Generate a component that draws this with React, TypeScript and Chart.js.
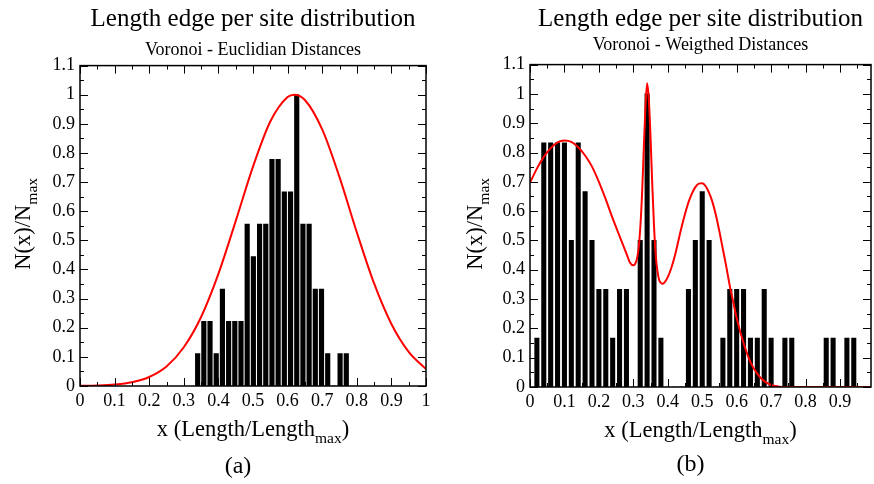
import React, { useEffect, useRef } from 'react';
import { Chart, registerables } from 'chart.js';

Chart.register(...registerables);

const FONT = '"Liberation Serif", "Times New Roman", Times, serif';

// ---------------- Panel (a): Voronoi - Euclidian Distances ----------------
const binsA = [
  0.3400, 0.3579, 0.3758, 0.3937, 0.4116, 0.4295, 0.4474, 0.4653, 0.4832, 0.5011,
  0.5190, 0.5369, 0.5548, 0.5727, 0.5906, 0.6085, 0.6264, 0.6443, 0.6622, 0.6801,
  0.6980, 0.7159, 0.7338, 0.7517, 0.7696,
];
const countsA = [
  0.111, 0.222, 0.222, 0.111, 0.333, 0.222, 0.222, 0.222, 0.556, 0.444,
  0.556, 0.556, 0.778, 0.778, 0.667, 0.667, 1.0, 0.556, 0.556, 0.333,
  0.333, 0.111, 0, 0.111, 0.111,
];
const fitXA = [
  0, 0.05, 0.1, 0.15, 0.2, 0.25, 0.3, 0.35, 0.4, 0.45, 0.5, 0.55, 0.6, 0.62,
  0.65, 0.7, 0.75, 0.8, 0.85, 0.9, 0.95, 1.0,
];
const fitYA = [
  0.0005, 0.0016, 0.0048, 0.0128, 0.031, 0.067, 0.133, 0.237, 0.385, 0.566, 0.753, 0.908, 0.992, 1.0,
  0.982, 0.881, 0.717, 0.528, 0.352, 0.213, 0.117, 0.058,
];

// ---------------- Panel (b): Voronoi - Weigthed Distances ----------------
const binsB = [
  0.02, 0.04, 0.06, 0.08, 0.10, 0.12, 0.14, 0.16, 0.18, 0.20,
  0.22, 0.24, 0.26, 0.28, 0.30, 0.32, 0.34, 0.36, 0.38, 0.40,
  0.42, 0.44, 0.46, 0.48, 0.50, 0.52, 0.54, 0.56, 0.58, 0.60,
  0.62, 0.64, 0.66, 0.68, 0.70, 0.72, 0.74, 0.76, 0.78, 0.80,
  0.82, 0.84, 0.86, 0.88, 0.90, 0.92, 0.94,
];
const countsB = [
  0.167, 0.833, 0.833, 0.833, 0.833, 0.5, 0.833, 0.667, 0.5, 0.333,
  0.333, 0.167, 0.333, 0.333, 0, 0.5, 1.0, 0.5, 0.167, 0,
  0, 0, 0.333, 0.5, 0.667, 0.5, 0, 0.167, 0.333, 0.333,
  0.333, 0.167, 0.167, 0.333, 0.167, 0, 0.167, 0.167, 0, 0,
  0, 0, 0.167, 0.167, 0, 0.167, 0.167,
];
const fitXB = [
  0, 0.02, 0.04, 0.06, 0.08, 0.10, 0.12, 0.14, 0.16, 0.18, 0.20, 0.22, 0.24, 0.26,
  0.27, 0.28, 0.29, 0.30, 0.305, 0.31, 0.315, 0.32, 0.325, 0.33, 0.335, 0.34, 0.345,
  0.35, 0.355, 0.36, 0.365, 0.37, 0.375, 0.38, 0.385, 0.39, 0.40, 0.41, 0.42, 0.43,
  0.44, 0.45, 0.46, 0.47, 0.48, 0.49, 0.50, 0.51, 0.52, 0.53, 0.54, 0.55, 0.56, 0.57,
  0.58, 0.59, 0.60, 0.62, 0.64, 0.66, 0.68, 0.70, 0.72, 0.74, 0.80, 0.90, 0.99,
];
const fitYB = [
  0.697, 0.745, 0.785, 0.815, 0.835, 0.841, 0.836, 0.818, 0.790, 0.752, 0.700, 0.640, 0.575, 0.515,
  0.485, 0.455, 0.425, 0.415, 0.420, 0.435, 0.470, 0.540, 0.650, 0.800, 0.950, 1.036, 0.980,
  0.850, 0.690, 0.550, 0.450, 0.395, 0.365, 0.355, 0.352, 0.356, 0.375, 0.405, 0.445, 0.495,
  0.545, 0.590, 0.630, 0.660, 0.682, 0.694, 0.695, 0.685, 0.662, 0.630, 0.585, 0.530, 0.470, 0.410,
  0.345, 0.290, 0.235, 0.150, 0.085, 0.045, 0.020, 0.007, 0.002, 0, 0, 0, 0,
];

const titleText = 'Length edge per site distribution';
const subtitleA = 'Voronoi - Euclidian Distances';
const subtitleB = 'Voronoi - Weigthed Distances';
const yTitleMain = 'N(x)/N';
const xTitleMain = 'x (Length/Length';
const titleSub = 'max';
const tagA = '(a)';
const tagB = '(b)';

type PanelCfg = {
  bins: number[];
  counts: number[];
  fitX: number[];
  fitY: number[];
  subtitle: string;
  tag: string;
  xMax: number;
  yAxisWidth: number;
  xAxisHeight: number;
  padRight: number;
  titlePadBottom: number;
  subPadBottom: number;
  barThickness: number;
  yTitleX: number;
  xTitleBase: number;
  tagBase: number;
  tagOffset: number;
};

function drawWithSub(
  ctx: CanvasRenderingContext2D,
  main: string,
  sub: string,
  tail: string,
  cx: number,
  base: number,
  size: number,
  subSize: number,
  drop: number
) {
  const mf = `${size}px ${FONT}`;
  const sf = `${subSize}px ${FONT}`;
  ctx.font = mf;
  const w1 = ctx.measureText(main).width;
  const w3 = ctx.measureText(tail).width;
  ctx.font = sf;
  const w2 = ctx.measureText(sub).width;
  let x = cx - (w1 + w2 + w3) / 2;
  ctx.textAlign = 'left';
  ctx.textBaseline = 'alphabetic';
  ctx.font = mf;
  ctx.fillText(main, x, base);
  x += w1;
  ctx.font = sf;
  ctx.fillText(sub, x, base + drop);
  x += w2;
  ctx.font = mf;
  if (tail) ctx.fillText(tail, x, base);
}

function makeDecor(cfg: PanelCfg) {
  return {
    id: 'decor',
    afterDatasetsDraw(chart: any) {
      const { ctx, chartArea: a, scales } = chart;
      const x = scales.x;
      const y = scales.y;
      ctx.save();
      // tick marks (inside, on all four sides)
      ctx.strokeStyle = '#000';
      ctx.lineWidth = 1;
      for (let i = 0; ; i++) {
        const v = i * 0.05;
        if (v > x.max + 1e-9) break;
        const px = Math.round(x.getPixelForValue(v)) + 0.5;
        const len = i % 2 === 0 ? 8 : 4;
        ctx.beginPath();
        ctx.moveTo(px, a.bottom);
        ctx.lineTo(px, a.bottom - len);
        ctx.moveTo(px, a.top);
        ctx.lineTo(px, a.top + len);
        ctx.stroke();
      }
      for (let i = 0; ; i++) {
        const v = i * 0.05;
        if (v > y.max + 1e-9) break;
        const py = Math.round(y.getPixelForValue(v)) + 0.5;
        const len = i % 2 === 0 ? 8 : 4;
        ctx.beginPath();
        ctx.moveTo(a.left, py);
        ctx.lineTo(a.left + len, py);
        ctx.moveTo(a.right, py);
        ctx.lineTo(a.right - len, py);
        ctx.stroke();
      }
      // frame
      ctx.lineWidth = 1.5;
      ctx.strokeRect(a.left, a.top, a.right - a.left, a.bottom - a.top);

      // axis titles
      ctx.fillStyle = '#000';
      const cx = (a.left + a.right) / 2;
      drawWithSub(ctx, xTitleMain, titleSub, ')', cx, cfg.xTitleBase, 22.5, 15.5, 7);
      ctx.font = `24px ${FONT}`;
      ctx.textAlign = 'center';
      ctx.textBaseline = 'alphabetic';
      ctx.fillText(cfg.tag, cx + cfg.tagOffset, cfg.tagBase);

      const cy = (a.top + a.bottom) / 2 - 2;
      ctx.save();
      ctx.translate(cfg.yTitleX, cy);
      ctx.rotate(-Math.PI / 2);
      drawWithSub(ctx, yTitleMain, titleSub, '', 0, 0, 22.5, 15.5, 7);
      ctx.restore();
      ctx.restore();
    },
  };
}

const fmt = (v: any) => String(Math.round(Number(v) * 10) / 10);

function makeChart(canvas: HTMLCanvasElement, cfg: PanelCfg) {
  const barData = cfg.bins.map((b, i) => ({ x: b, y: cfg.counts[i] }));
  const lineData = cfg.fitX.map((fx, i) => ({ x: fx, y: cfg.fitY[i] }));
  return new Chart(canvas, {
    type: 'bar',
    data: {
      datasets: [
        {
          type: 'line',
          data: lineData,
          borderColor: '#ff0000',
          borderWidth: 2,
          pointRadius: 0,
          cubicInterpolationMode: 'monotone',
          order: 0,
        } as any,
        {
          type: 'bar',
          data: barData,
          backgroundColor: '#000',
          barThickness: cfg.barThickness,
          order: 1,
        } as any,
      ],
    },
    options: {
      responsive: false,
      animation: false,
      events: [],
      layout: { padding: { left: 0, right: cfg.padRight, top: 0, bottom: 0 } },
      plugins: {
        legend: { display: false },
        tooltip: { enabled: false },
        title: {
          display: true,
          text: titleText,
          fullSize: false,
          color: '#000',
          font: { family: FONT, size: 25, weight: 'normal' },
          padding: { top: 4, bottom: cfg.titlePadBottom },
        },
        subtitle: {
          display: true,
          text: cfg.subtitle,
          fullSize: false,
          color: '#000',
          font: { family: FONT, size: 18, weight: 'normal' },
          padding: { top: 0, bottom: cfg.subPadBottom },
        },
      },
      scales: {
        x: {
          type: 'linear',
          min: 0,
          max: cfg.xMax,
          offset: false,
          grid: { display: false, drawTicks: false },
          border: { display: false },
          ticks: {
            stepSize: 0.1,
            includeBounds: false,
            maxRotation: 0,
            autoSkip: false,
            padding: 4,
            color: '#000',
            font: { family: FONT, size: 18 },
            callback: fmt,
          },
          afterFit: (s: any) => {
            s.height = cfg.xAxisHeight;
          },
        },
        y: {
          type: 'linear',
          min: 0,
          max: 1.1,
          grid: { display: false, drawTicks: false },
          border: { display: false },
          ticks: {
            stepSize: 0.1,
            autoSkip: false,
            padding: 5,
            color: '#000',
            font: { family: FONT, size: 18 },
            callback: fmt,
          },
          afterFit: (s: any) => {
            s.width = cfg.yAxisWidth;
          },
        },
      },
    } as any,
    plugins: [makeDecor(cfg)],
  });
}

const panelA: PanelCfg = {
  bins: binsA,
  counts: countsA,
  fitX: fitXA,
  fitY: fitYA,
  subtitle: subtitleA,
  tag: tagA,
  xMax: 1,
  yAxisWidth: 80,
  xAxisHeight: 98,
  padRight: 11,
  titlePadBottom: 5,
  subPadBottom: 5,
  barThickness: 4.5,
  yTitleX: 30,
  xTitleBase: 436,
  tagBase: 473,
  tagOffset: -15,
};

const panelB: PanelCfg = {
  bins: binsB,
  counts: countsB,
  fitX: fitXB,
  fitY: fitYB,
  subtitle: subtitleB,
  tag: tagB,
  xMax: 0.99,
  yAxisWidth: 93,
  xAxisHeight: 97,
  padRight: 3,
  titlePadBottom: 0,
  subPadBottom: 9,
  barThickness: 4.4,
  yTitleX: 45,
  xTitleBase: 437,
  tagBase: 471,
  tagOffset: -10,
};

export default function App() {
  const refA = useRef<HTMLCanvasElement>(null);
  const refB = useRef<HTMLCanvasElement>(null);

  useEffect(() => {
    const ca = makeChart(refA.current!, panelA);
    const cb = makeChart(refB.current!, panelB);
    return () => {
      ca.destroy();
      cb.destroy();
    };
  }, []);

  return (
    <div
      style={{
        position: 'fixed',
        left: 0,
        top: 0,
        width: 874,
        height: 484,
        background: '#fff',
        overflow: 'hidden',
      }}
    >
      <canvas
        ref={refA}
        width={437}
        height={484}
        style={{ position: 'absolute', left: 0, top: 0, width: 437, height: 484 }}
      />
      <canvas
        ref={refB}
        width={437}
        height={484}
        style={{ position: 'absolute', left: 437, top: 0, width: 437, height: 484 }}
      />
    </div>
  );
}
